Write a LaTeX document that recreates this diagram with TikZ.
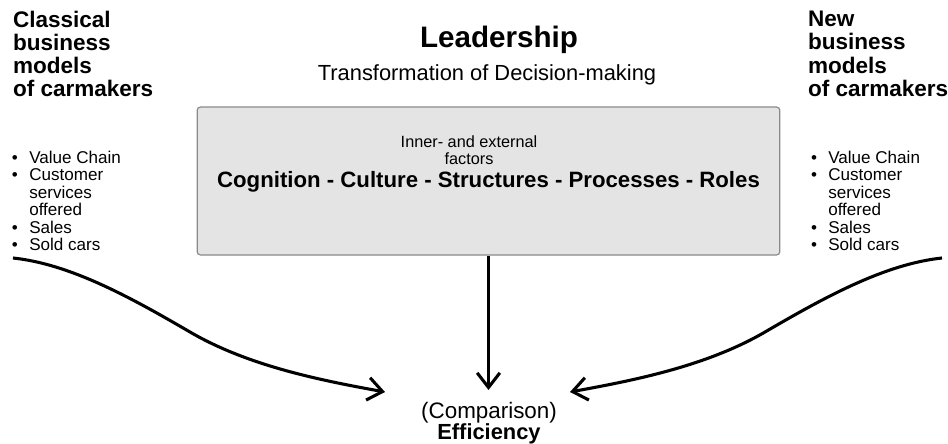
\documentclass[tikz,border=0pt]{standalone}
\usepackage{fontspec}
\setmainfont{Liberation Sans}
\usetikzlibrary{arrows.meta}

\definecolor{boxfill}{HTML}{E4E4E4}
\definecolor{boxline}{HTML}{8A8A8A}

\newcommand{\fsz}[2]{\fontsize{#1}{#2}\selectfont}

\begin{document}
\begin{tikzpicture}[
  x=0.75pt, y=-0.75pt,
  txt/.style={inner sep=0pt, outer sep=0pt},
  header/.style={txt, anchor=north west, font=\fsz{16.9pt}{17pt}\bfseries},
  bullets/.style={txt, anchor=north west, font=\fsz{12.8pt}{13pt}},
  factorbox/.style={draw=boxline, fill=boxfill, line width=0.9pt,
    rounded corners=2.5pt, minimum width=437pt, minimum height=111pt, inner sep=0pt},
  flow/.style={line width=2.3pt, -{Straight Barb[length=11pt, width=17pt, line width=2.3pt]}}
]
\useasboundingbox (0,0) rectangle (948,443);

% headings
\node[txt, anchor=base, font=\fsz{22.2pt}{24pt}\bfseries] (lead) at (499,47) {Leadership};
\node[txt, anchor=base, font=\fsz{16.4pt}{18pt}] (sub) at (487,80) {Transformation of Decision-making};

% business model columns
\node[header] (classic) at (13,11) {\renewcommand\arraystretch{1}%
  \begin{tabular}{@{}l@{}}Classical\\ business\\ models\\ of carmakers\end{tabular}};
\node[header] (new) at (808,11) {\renewcommand\arraystretch{1}%
  \begin{tabular}{@{}l@{}}New\\ business\\ models\\ of carmakers\end{tabular}};

\node[bullets] (classiclist) at (12,151) {\renewcommand\arraystretch{1}%
  \begin{tabular}{@{}l@{\hspace{8.5pt}}l@{}}
  \textbullet & Value Chain\\
  \textbullet & Customer\\
              & services\\
              & offered\\
  \textbullet & Sales\\
  \textbullet & Sold cars
  \end{tabular}};
\node[bullets] (newlist) at (811,151) {\renewcommand\arraystretch{1}%
  \begin{tabular}{@{}l@{\hspace{8.5pt}}l@{}}
  \textbullet & Value Chain\\
  \textbullet & Customer\\
              & services\\
              & offered\\
  \textbullet & Sales\\
  \textbullet & Sold cars
  \end{tabular}};

% factor box
\node[factorbox] (box) at (488.5,181) {};
\node[txt, anchor=north, font=\fsz{12.2pt}{12pt}] (inner) at (469,136) {\renewcommand\arraystretch{1}%
  \begin{tabular}{@{}c@{}}Inner- and external\\ factors\end{tabular}};
\node[txt, anchor=base, font=\fsz{16.65pt}{18pt}\bfseries] (factors) at (488.5,187)
  {Cognition - Culture - Structures - Processes - Roles};

% result
\node[txt, anchor=base, font=\fsz{16.8pt}{18pt}] (cmp) at (489,418) {(Comparison)};
\node[txt, anchor=base, font=\fsz{16.4pt}{18pt}\bfseries] (eff) at (489,439) {Efficiency};

% connector end points
\coordinate (startL) at (13,258);
\coordinate (midL) at (190,332);
\coordinate (tipL) at (385,392);
\coordinate (startR) at (942,258);
\coordinate (midR) at (765,332);
\coordinate (tipR) at (570,392);
\coordinate (tipC) at (488.5,390);

% connectors
\draw[flow] (startL) .. controls (70,264) and (130,297) .. (midL)
                     .. controls (250,367) and (325,381) .. (tipL);
\draw[flow] (startR) .. controls (885,264) and (825,297) .. (midR)
                     .. controls (705,367) and (630,381) .. (tipR);
\draw[flow] (box.south) -- (tipC);
\end{tikzpicture}
\end{document}
